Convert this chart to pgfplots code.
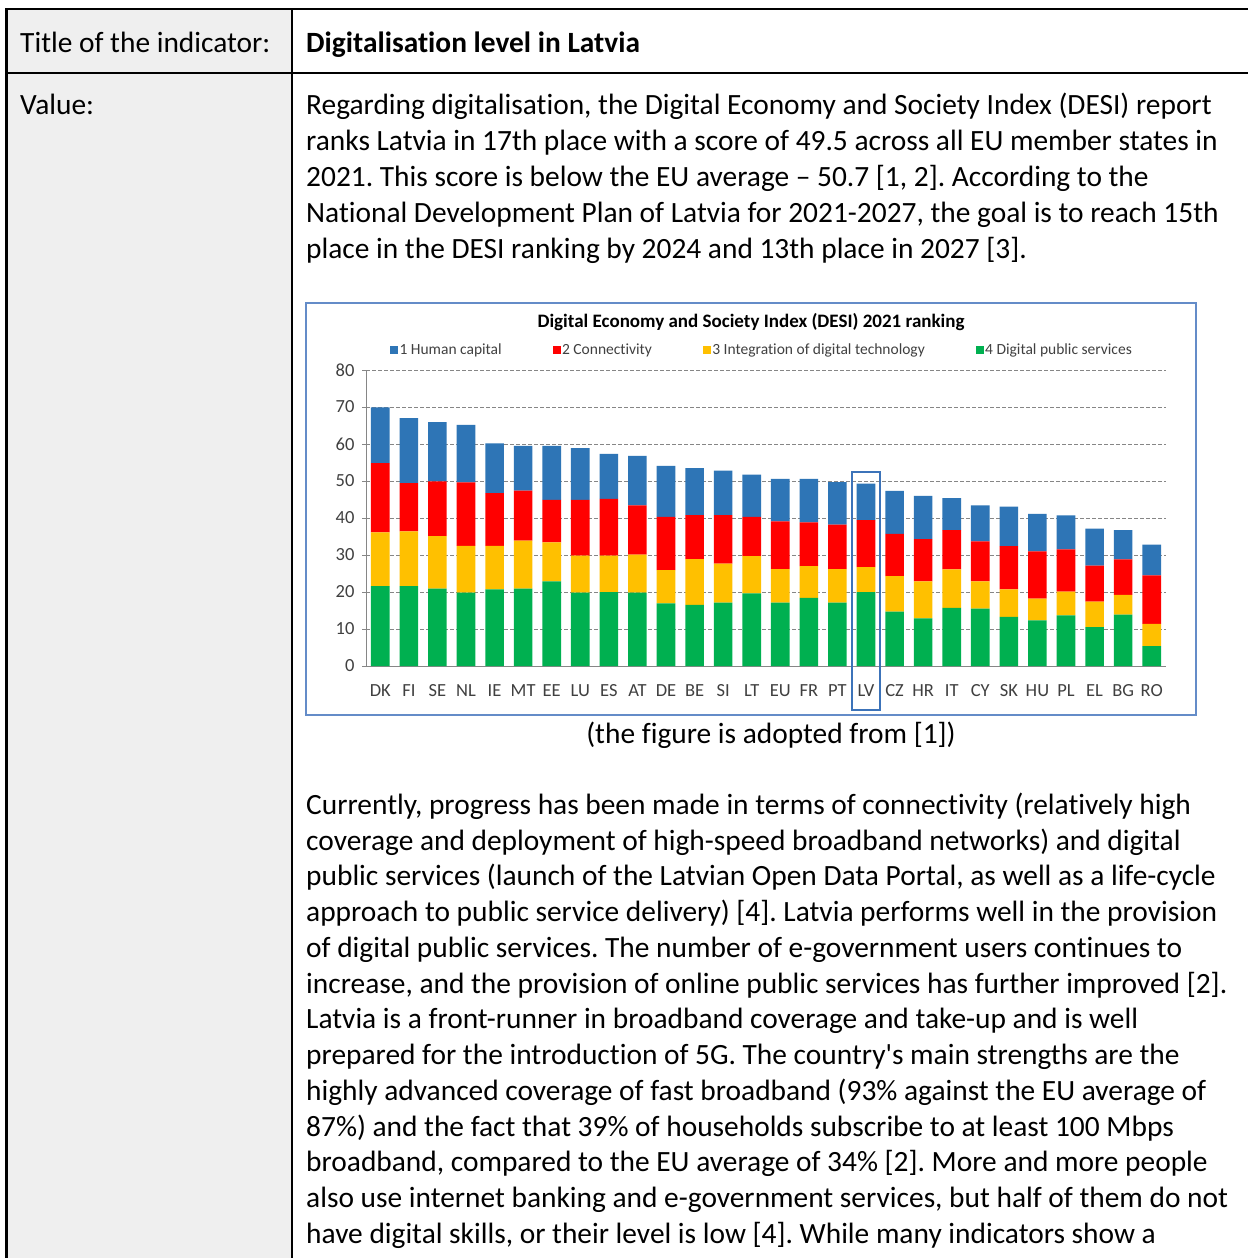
\documentclass[border=0pt]{standalone}
\usepackage{pgfplots}
\pgfplotsset{compat=1.18}
\usepackage{pgfplotstable}
\usepackage{fontspec}
\setmainfont{Carlito}[Ligatures={TeX,NoCommon}]
\definecolor{hc}{RGB}{46,117,182}
\definecolor{cn}{RGB}{255,0,0}
\definecolor{ig}{RGB}{255,192,0}
\definecolor{dp}{RGB}{0,176,80}
\definecolor{frameblue}{RGB}{100,140,200}
\definecolor{lvblue}{RGB}{60,115,185}
\definecolor{cellgray}{RGB}{239,239,239}
\definecolor{axgray}{RGB}{134,134,134}
\definecolor{txtgray}{RGB}{64,64,64}
\newcommand\body{\fontsize{29.4}{36}\selectfont}
\frenchspacing

\pgfplotstableread{
x lab dps integ conn hc
0  DK 21.6 14.5 18.7 15.1
1  FI 21.6 14.8 13.0 17.6
2  SE 20.9 14.2 14.8 16.0
3  NL 19.8 12.7 17.1 15.6
4  IE 20.7 11.8 14.2 13.5
5  MT 20.9 13.0 13.5 12.1
6  EE 22.9 10.5 11.5 14.6
7  LU 19.8 10.0 15.1 14.0
8  ES 20.0 9.8 15.4 12.1
9  AT 19.8 10.3 13.3 13.4
10 DE 16.9 9.0 14.4 13.8
11 BE 16.5 12.4 11.9 12.7
12 SI 17.1 10.6 13.1 12.0
13 LT 19.6 10.1 10.6 11.4
14 EU 17.1 9.1 12.9 11.5
15 FR 18.4 8.6 11.8 11.8
16 PT 17.1 9.1 12.0 11.5
17 LV 20.0 6.7 12.7 9.9
18 CZ 14.7 9.6 11.4 11.6
19 HR 12.9 10.0 11.4 11.7
20 IT 15.7 10.4 10.6 8.7
21 CY 15.5 7.4 10.8 9.7
22 SK 13.3 7.4 11.7 10.7
23 HU 12.3 5.9 12.8 10.1
24 PL 13.7 6.4 11.4 9.2
25 EL 10.5 6.9 9.7 10.0
26 BG 13.9 5.3 9.6 7.9
27 RO 5.4 6.0 13.1 8.3
}\desi

\begin{document}
\begin{tikzpicture}[x=1pt,y=1pt]
\path[use as bounding box] (0,0) rectangle (1248,-1258);
% table background and borders
\fill[cellgray] (7,-9) rectangle (292,-1258);
\draw[line width=2.7pt] (5,-9) -- (1248,-9);
\draw[line width=2.4pt] (6.5,-8) -- (6.5,-1258);
\draw[line width=2.4pt] (292,-8) -- (292,-1258);
\draw[line width=2.4pt] (6,-73) -- (1248,-73);
% row 1
\node[anchor=base west, inner sep=0, font=\body] at (20,-52) {Title of the indicator:};
\node[anchor=base west, inner sep=0, font=\body\bfseries] at (306,-52) {Digitalisation level in Latvia};
% row 2
\node[anchor=base west, inner sep=0, font=\body] at (20,-114.5) {Value:};
\begin{scope}[every node/.style={anchor=base west, inner sep=0, font=\body}]
\node at (306,-114.5) {Regarding digitalisation, the Digital Economy and Society Index (DESI) report};
\node at (306,-150.5) {ranks Latvia in 17th place with a score of 49.5 across all EU member states in};
\node at (306,-186.5) {2021. This score is below the EU average – 50.7 [1, 2]. According to the};
\node at (306,-222.5) {National Development Plan of Latvia for 2021-2027, the goal is to reach 15th};
\node at (306,-258.5) {place in the DESI ranking by 2024 and 13th place in 2027 [3].};
\node at (306,-814.3) {Currently, progress has been made in terms of connectivity (relatively high};
\node at (306,-850.1) {coverage and deployment of high-speed broadband networks) and digital};
\node at (306,-885.8) {public services (launch of the Latvian Open Data Portal, as well as a life-cycle};
\node at (306,-921.6) {approach to public service delivery) [4]. Latvia performs well in the provision};
\node at (306,-957.3) {of digital public services. The number of e-government users continues to};
\node at (306,-993.1) {increase, and the provision of online public services has further improved [2].};
\node at (306,-1028.8) {Latvia is a front-runner in broadband coverage and take-up and is well};
\node at (306,-1064.6) {prepared for the introduction of 5G. The country\textquotesingle s main strengths are the};
\node at (306,-1100.3) {highly advanced coverage of fast broadband (93\% against the EU average of};
\node at (306,-1136.1) {87\%) and the fact that 39\% of households subscribe to at least 100 Mbps};
\node at (306,-1171.8) {broadband, compared to the EU average of 34\% [2]. More and more people};
\node at (306,-1207.6) {also use internet banking and e-government services, but half of them do not};
\node at (306,-1243.3) {have digital skills, or their level is low [4]. While many indicators show a};
\end{scope}
\node[anchor=base, inner sep=0, font=\body] at (771,-743.5) {(the figure is adopted from [1])};
% chart frame
\fill[white] (306,-303) rectangle (1196,-715);
\draw[frameblue, line width=1.8pt] (306,-303) rectangle (1196,-715);
\node[anchor=base, inner sep=0, font=\fontsize{19}{22}\selectfont\bfseries] at (751,-327) {Digital Economy and Society Index (DESI) 2021 ranking};
\begin{axis}[
  at={(366pt,-666pt)}, anchor=south west,
  scale only axis, width=800pt, height=296pt,
  xmin=-0.5, xmax=27.5, ymin=0, ymax=80,
  ybar stacked, bar width=18.6pt,
  axis x line*=bottom, axis y line*=left,
  axis line style={axgray, line width=1pt},
  ytick={0,10,...,80},
  xtick={0,...,27},
  xticklabels from table={\desi}{lab},
  ymajorgrids,
  grid style={axgray, line width=0.8pt, dash pattern=on 4pt off 2pt},
  major x tick style={draw=none},
  major y tick style={axgray, line width=0.8pt},
  tick align=outside, major tick length=4pt,
  /pgf/number format/assume math mode=true,
  yticklabel style={font=\fontsize{18.5}{20}\selectfont, text=txtgray, xshift=-4pt},
  xticklabel style={font=\fontsize{18.5}{20}\selectfont, text=txtgray, yshift=-11pt},
  clip=false,
  legend columns=4,
  legend style={at={(0.495,1.068)}, anchor=center, draw=none, fill=none,
    font=\fontsize{15.5}{17}\selectfont, text=txtgray,
    /tikz/every even column/.append style={column sep=49pt}},
]
\addlegendimage{legend image code/.code={\fill[hc] (0pt,-3.5pt) rectangle (7pt,3.5pt);}}
\addlegendentry{1 Human capital}
\addlegendimage{legend image code/.code={\fill[cn] (0pt,-3.5pt) rectangle (7pt,3.5pt);}}
\addlegendentry{2 Connectivity}
\addlegendimage{legend image code/.code={\fill[ig] (0pt,-3.5pt) rectangle (7pt,3.5pt);}}
\addlegendentry{3 Integration of digital technology}
\addlegendimage{legend image code/.code={\fill[dp] (0pt,-3.5pt) rectangle (7pt,3.5pt);}}
\addlegendentry{4 Digital public services}
\addplot[fill=dp, draw=none, forget plot] table[x=x, y=dps] {\desi};
\addplot[fill=ig, draw=none, forget plot] table[x=x, y=integ] {\desi};
\addplot[fill=cn, draw=none, forget plot] table[x=x, y=conn] {\desi};
\addplot[fill=hc, draw=none, forget plot] table[x=x, y=hc] {\desi};
\draw[lvblue, line width=1.8pt] (axis cs:16.52,52.4) rectangle (axis cs:17.48,-11.9);
\end{axis}
\end{tikzpicture}
\end{document}
